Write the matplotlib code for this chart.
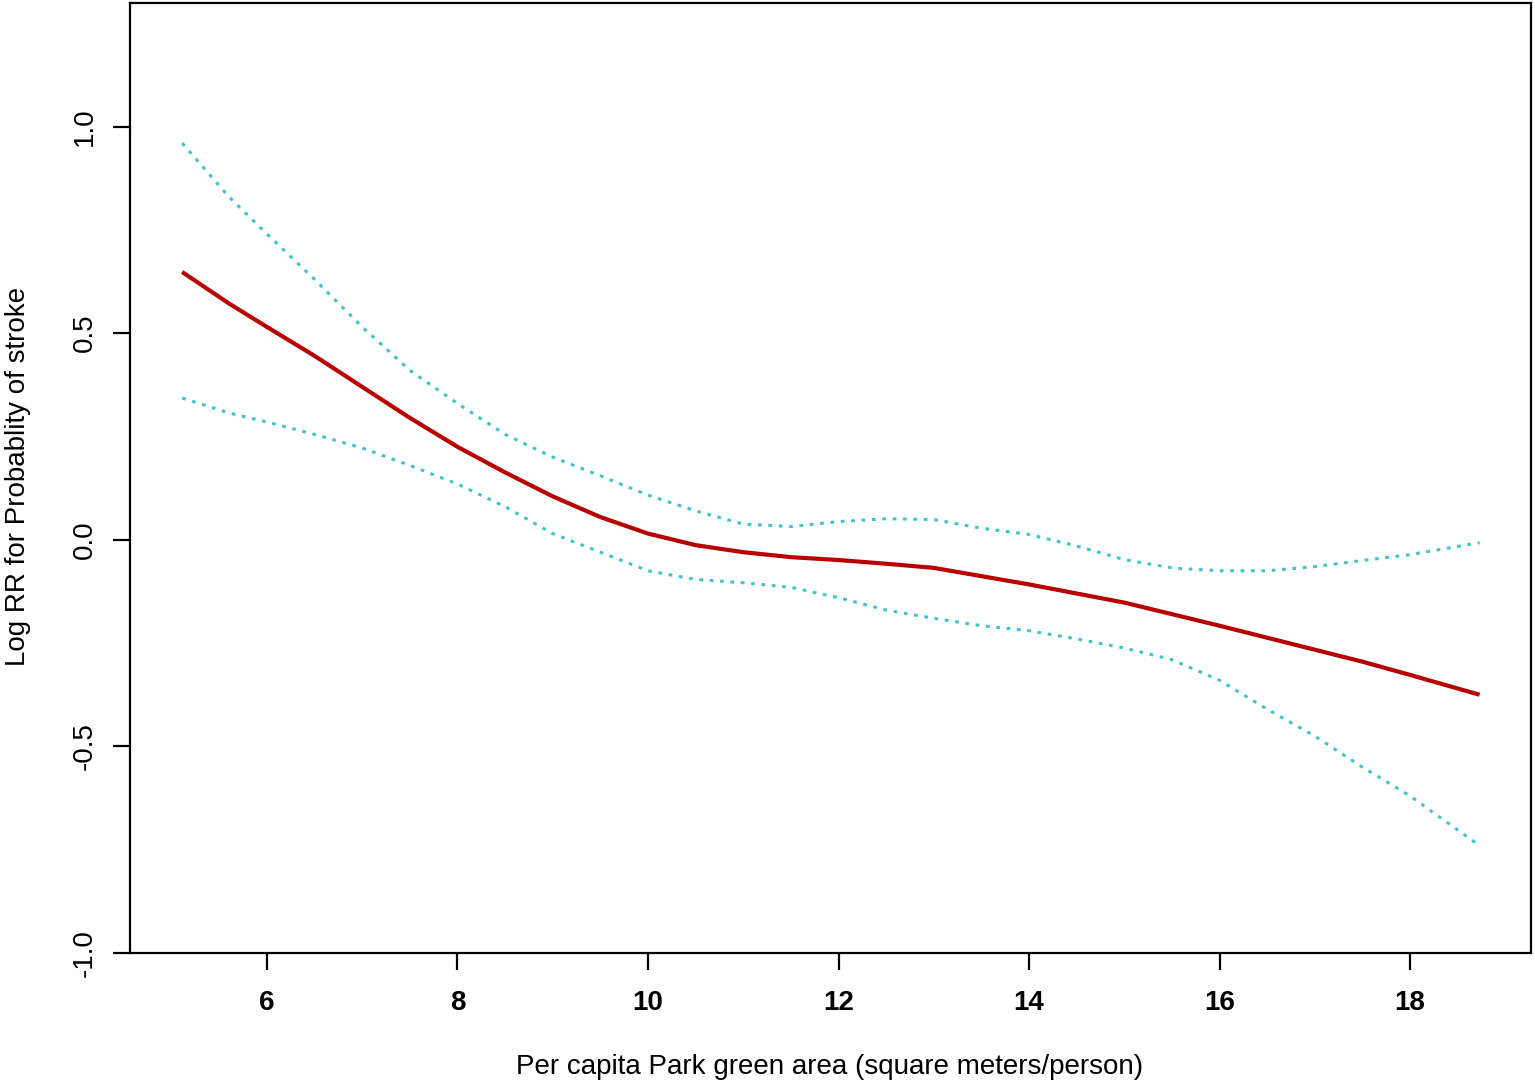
import matplotlib
matplotlib.use('Agg')
import matplotlib.pyplot as plt
import numpy as np

plt.rcParams['font.family'] = ['Liberation Sans', 'DejaVu Sans']

# values (spline fit with 95% CI)
parkArea = [5.11, 5.6, 6.0, 6.5, 7.0, 7.5, 8.0, 8.5, 9.0, 9.5, 10.0, 10.5, 11.0, 11.5,
            12.0, 12.5, 13.0, 13.5, 14.0, 14.5, 15.0, 15.5, 16.0, 16.5, 17.0, 17.5, 18.0, 18.73]
logRR = [0.648, 0.572, 0.515, 0.445, 0.370, 0.295, 0.225, 0.163, 0.105, 0.055, 0.015, -0.013,
         -0.030, -0.042, -0.049, -0.058, -0.068, -0.088, -0.108, -0.130, -0.152, -0.180,
         -0.208, -0.237, -0.266, -0.295, -0.327, -0.375]
upperCI = [0.960, 0.830, 0.740, 0.630, 0.515, 0.410, 0.330, 0.255, 0.200, 0.155, 0.108, 0.070,
           0.038, 0.032, 0.044, 0.051, 0.049, 0.028, 0.013, -0.015, -0.048, -0.068,
           -0.075, -0.075, -0.065, -0.050, -0.036, -0.007]
lowerCI = [0.343, 0.307, 0.285, 0.255, 0.222, 0.180, 0.135, 0.080, 0.015, -0.030, -0.075, -0.096,
           -0.104, -0.115, -0.140, -0.170, -0.190, -0.208, -0.220, -0.240, -0.262, -0.290,
           -0.340, -0.410, -0.475, -0.550, -0.620, -0.740]

xTicks = [6, 8, 10, 12, 14, 16, 18]
yTicks = [-1.0, -0.5, 0.0, 0.5, 1.0]

fig = plt.figure(figsize=(15.35, 10.84), dpi=100)
ax = fig.add_axes([130 / 1535, 1 - 953 / 1084, 1401 / 1535, 950 / 1084])

ax.plot(parkArea, upperCI, color='#40c4c4', lw=2.2, linestyle=(0, (1.2, 2.2)))
ax.plot(parkArea, lowerCI, color='#40c4c4', lw=2.2, linestyle=(0, (1.2, 2.2)))
ax.plot(parkArea, logRR, color='#b80000', lw=3.0, solid_capstyle='butt')

ax.set_xlim(4.562, 19.27)
ax.set_ylim(-1.0, 1.299)

for side in ['left', 'right', 'top', 'bottom']:
    ax.spines[side].set_linewidth(1.6)
    ax.spines[side].set_color('black')

ax.set_xticks(xTicks)
ax.set_xticklabels([str(t) for t in xTicks], fontsize=20, fontweight='bold')
ax.set_yticks(yTicks)
ax.set_yticklabels(['%.1f' % t for t in yTicks], fontsize=20, rotation=90, va='center')
ax.tick_params(axis='x', length=12, width=1.6, pad=15)
ax.tick_params(axis='y', length=12, width=1.6, pad=11)

fig.text(830 / 1535, 1 - 1067 / 1084, 'Per capita Park green area (square meters/person)',
         ha='center', va='center', fontsize=20)
fig.text(18 / 1535, 1 - 476 / 1084, 'Log RR for Probablity of stroke',
         ha='center', va='center', rotation=90, fontsize=20)

fig.savefig('out.png', dpi=100)
